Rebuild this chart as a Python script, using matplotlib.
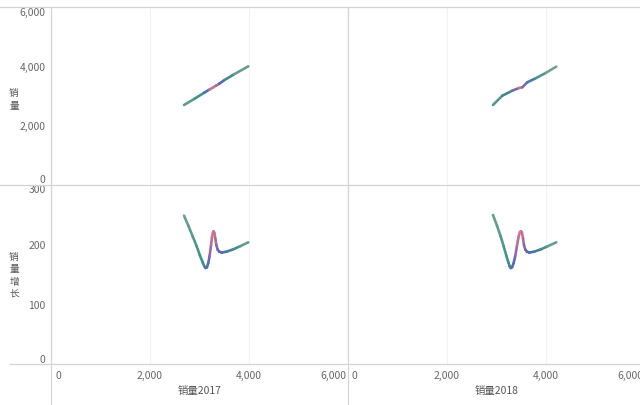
import numpy as np
import matplotlib
matplotlib.use("Agg")
import matplotlib.pyplot as plt
from matplotlib.collections import LineCollection
from matplotlib.colors import LinearSegmentedColormap
from matplotlib.lines import Line2D
from matplotlib.transforms import ScaledTranslation

plt.rcParams['font.family'] = ['Noto Sans CJK SC', 'DejaVu Sans']

# ---------------- data ----------------
years = ["2017", "2018"]

# top row: 销量 vs 销量<year>
top_x_2017 = [2687, 2900, 3100, 3200, 3280, 3330, 3400, 3500, 3700, 3986]
top_y_2017 = [2678, 2890, 3100, 3200, 3280, 3330, 3400, 3520, 3720, 3990]
top_c_2017 = [0.85, 0.7, 0.55, 0.1, 0.0, 0.0, 0.25, 0.4, 0.7, 0.95]

top_x_2018 = [2929, 3117, 3319, 3454, 3521, 3622, 3790, 3992, 4206]
top_y_2018 = [2678, 2993, 3163, 3254, 3278, 3448, 3583, 3763, 3977]
top_c_2018 = [0.85, 0.6, 0.45, 0.0, 0.1, 0.3, 0.6, 0.8, 0.95]

# bottom row: 销量增长 vs 销量<year>
bot_x_2017 = [2687, 2774, 2862, 2943, 3010, 3064, 3097, 3124, 3151, 3178, 3205, 3232,
              3252, 3272, 3286, 3299, 3319, 3340, 3367, 3400, 3448, 3549, 3683, 3818, 3986]
bot_x_2018 = [2929, 3010, 3084, 3145, 3198, 3239, 3266, 3286, 3313, 3347, 3380, 3414,
              3448, 3474, 3495, 3515, 3535, 3555, 3582, 3616, 3663, 3764, 3899, 4033, 4208]
bot_y_2017 = [247.3, 230.6, 212.8, 196.2, 180.6, 169.5, 162.8, 160.0, 161.1, 168.4, 180.6, 197.3,
              211.2, 219.5, 221.2, 218.9, 209.5, 198.4, 190.6, 187.2, 185.6, 187.3, 191.2, 196.2, 202.8]
bot_y_2018 = [248.4, 230.6, 212.8, 196.2, 180.6, 169.5, 162.8, 160.0, 161.1, 168.4, 180.6, 197.3,
              212.8, 220.0, 221.2, 218.9, 209.5, 198.4, 190.6, 187.2, 185.6, 187.3, 191.2, 196.2, 202.8]
bot_c = [0.85, 0.8, 0.75, 0.7, 0.65, 0.6, 0.55, 0.5, 0.42, 0.32, 0.2, 0.1,
         0.05, 0.0, 0.0, 0.02, 0.08, 0.15, 0.22, 0.28, 0.3, 0.4, 0.55, 0.7, 0.9]

x_ticks = [0, 2000, 4000, 6000]
x_tick_labels = ["0", "2,000", "4,000", "6,000"]
top_y_ticks = [0, 2000, 4000, 6000]
top_y_tick_labels = ["0", "2,000", "4,000", "6,000"]
bot_y_ticks = [0, 100, 200, 300]
bot_y_tick_labels = ["0", "100", "200", "300"]
y_titles = ["销量", "销量增长"]

cmap = LinearSegmentedColormap.from_list(
    "tab", [(0.0, "#d6748f"), (0.3, "#5566b3"), (0.6, "#3f9087"), (1.0, "#8fa499")])

# ---------------- layout ----------------
W, H = 640, 406
fig = plt.figure(figsize=(W / 100, H / 100), dpi=100)

def fx(px):
    return px / W

def fy(py):
    return 1 - py / H

col_left = [51, 348]
col_w = 297
row_top = [8, 185]
row_h = [177, 180]

LINE = "#d4d4d4"
TXT = "#666666"

def draw(ax, xs, ys, cs):
    pts = np.column_stack([xs, ys]).reshape(-1, 1, 2)
    segs = np.concatenate([pts[:-1], pts[1:]], axis=1)
    cv = (np.array(cs[:-1]) + np.array(cs[1:])) / 2
    lc = LineCollection(segs, colors=cmap(cv), linewidths=1.9, capstyle='round', joinstyle='round')
    ax.add_collection(lc)

data = {
    (0, 0): (top_x_2017, top_y_2017, top_c_2017),
    (0, 1): (top_x_2018, top_y_2018, top_c_2018),
    (1, 0): (bot_x_2017, bot_y_2017, bot_c),
    (1, 1): (bot_x_2018, bot_y_2018, bot_c),
}

for r in range(2):
    for c in range(2):
        ax = fig.add_axes([fx(col_left[c]), fy(row_top[r] + row_h[r]), col_w / W, row_h[r] / H])
        ax.set_xlim(0, 6000)
        if r == 0:
            ax.set_ylim(0, 6000)
        else:
            ax.set_ylim(0, 300)
        for s in ax.spines.values():
            s.set_visible(False)
        ax.set_xticks(x_ticks)
        ax.grid(axis='x', color="#f2f2f2", linewidth=0.8)
        ax.set_axisbelow(True)
        ax.tick_params(length=0, labelsize=7.5, labelcolor=TXT, pad=4)
        if r == 1:
            ax.set_xticklabels(x_tick_labels)
            labs = ax.get_xticklabels()
            labs[0].set_ha('left')
            labs[0].set_transform(labs[0].get_transform() + ScaledTranslation(4 / 100, 0, fig.dpi_scale_trans))
            labs[-1].set_ha('right')
            labs[-1].set_transform(labs[-1].get_transform() + ScaledTranslation(-2 / 100, 0, fig.dpi_scale_trans))
            ax.set_xlabel("销量" + years[c], fontsize=7.5, color="#555555", labelpad=4)
        else:
            ax.set_xticklabels([])
        if c == 0:
            if r == 0:
                ax.set_yticks(top_y_ticks)
                ax.set_yticklabels(top_y_tick_labels)
            else:
                ax.set_yticks(bot_y_ticks)
                ax.set_yticklabels(bot_y_tick_labels)
            labs = ax.get_yticklabels()
            labs[0].set_va('bottom')
            labs[-1].set_va('top')
        else:
            ax.set_yticks([])
        xs, ys, cs = data[(r, c)]
        draw(ax, xs, ys, cs)

# y axis titles (stacked upright characters)
for title, center in zip(y_titles, [99.5, 275.5]):
    fig.text(fx(14), fy(center), "\n".join(title), fontsize=7, color="#555555",
             ha='center', va='center', linespacing=1.3)

# frame lines
for (x0, y0, x1, y1) in [(0, 8, 640, 8), (0, 185.5, 640, 185.5), (10, 365, 640, 365),
                         (51, 8, 51, 406), (348, 8, 348, 406)]:
    fig.add_artist(Line2D([fx(x0), fx(x1)], [fy(y0), fy(y1)], color=LINE, linewidth=0.9))

fig.savefig("out.png", dpi=100)
